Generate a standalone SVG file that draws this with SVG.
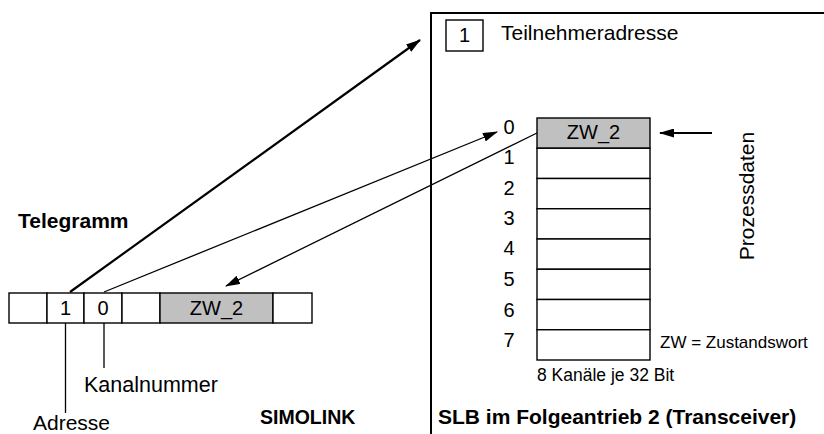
<svg xmlns="http://www.w3.org/2000/svg" width="824" height="434" viewBox="0 0 824 434">
<style>
text{font-family:"Liberation Sans",Arial,sans-serif;fill:#000}
.t{font-size:20px}
.s{font-size:17px}
.b{font-size:21px;font-weight:bold}
.c{fill:#fff;stroke:#000;stroke-width:1.4}
.g{fill:#c0c0c0;stroke:#000;stroke-width:1.4}
.ln{stroke:#000;stroke-width:1.3;fill:none}
</style>
<defs>
<marker id="ah" markerWidth="15" markerHeight="9" refX="14" refY="4.5" orient="auto" markerUnits="userSpaceOnUse">
<path d="M0,0 L15,4.5 L0,9 Z" fill="#000"/>
</marker>
</defs>
<rect width="824" height="434" fill="#fff"/>

<g id="panel">
<path class="ln" d="M431,434 V13 H824" style="stroke-width:2"/>
</g>

<g id="teilnehmeradresse">
<rect class="c" x="446" y="20" width="37" height="31"/>
<text class="t" x="464.5" y="42" text-anchor="middle">1</text>
<text class="t" x="501" y="40" style="font-size:21px">Teilnehmeradresse</text>
</g>

<g id="telegramm">
<text class="b" x="18" y="228">Telegramm</text>
<rect class="c" x="9" y="293" width="38" height="30"/>
<rect class="c" x="47" y="293" width="37" height="30"/>
<rect class="c" x="84" y="293" width="38" height="30"/>
<rect class="c" x="122" y="293" width="38" height="30"/>
<rect class="g" x="160" y="293" width="113" height="30"/>
<rect class="c" x="273" y="293" width="39" height="30"/>
<text class="t" x="65.5" y="315" text-anchor="middle">1</text>
<text class="t" x="103" y="315" text-anchor="middle">0</text>
<text class="t" x="216.5" y="315" text-anchor="middle">ZW_2</text>
</g>

<g id="adresse">
<line class="ln" x1="65.5" y1="323" x2="65.5" y2="413"/>
<text class="t" x="33" y="430" style="font-size:21px">Adresse</text>
</g>

<g id="kanalnummer">
<line class="ln" x1="104" y1="323" x2="104" y2="368"/>
<text class="t" x="84" y="392" style="font-size:21.5px">Kanalnummer</text>
</g>

<g id="simolink">
<text class="b" x="260" y="424" style="font-size:19.5px">SIMOLINK</text>
</g>

<g id="slb">
<text class="b" x="438" y="424">SLB im Folgeantrieb 2 (Transceiver)</text>
</g>

<g id="kanaele">
<rect class="g" x="537" y="118" width="113" height="30.25"/>
<rect class="c" x="537" y="148.25" width="113" height="30.25"/>
<rect class="c" x="537" y="178.5" width="113" height="30.25"/>
<rect class="c" x="537" y="208.75" width="113" height="30.25"/>
<rect class="c" x="537" y="239" width="113" height="30.25"/>
<rect class="c" x="537" y="269.25" width="113" height="30.25"/>
<rect class="c" x="537" y="299.5" width="113" height="30.25"/>
<rect class="c" x="537" y="329.75" width="113" height="30.25"/>
<text class="t" x="593.5" y="139" text-anchor="middle">ZW_2</text>
<g text-anchor="middle">
<text class="t" x="509" y="134">0</text>
<text class="t" x="509" y="164">1</text>
<text class="t" x="509" y="195">2</text>
<text class="t" x="509" y="225">3</text>
<text class="t" x="509" y="255">4</text>
<text class="t" x="509" y="286">5</text>
<text class="t" x="509" y="317">6</text>
<text class="t" x="509" y="347">7</text>
</g>
<text class="s" x="537" y="381" style="font-size:17.5px">8 Kanäle je 32 Bit</text>
<text class="s" x="660" y="348">ZW = Zustandswort</text>
</g>

<g id="prozessdaten">
<text class="t" transform="translate(754,196) rotate(-90)" text-anchor="middle" style="font-size:21px">Prozessdaten</text>
</g>

<g id="connectors">
<line class="ln" x1="70" y1="292" x2="420" y2="40" style="stroke-width:2.2" marker-end="url(#ah)"/>
<line class="ln" x1="104" y1="292" x2="497" y2="132" marker-end="url(#ah)"/>
<line class="ln" x1="537" y1="133" x2="226" y2="286" marker-end="url(#ah)"/>
<line class="ln" x1="712" y1="133" x2="660" y2="133" style="stroke-width:2" marker-end="url(#ah)"/>
</g>
</svg>
